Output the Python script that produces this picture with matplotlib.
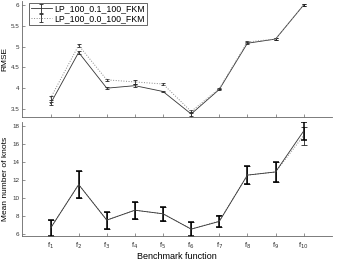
import numpy as np
import matplotlib
matplotlib.use("Agg")
import matplotlib.pyplot as plt
from matplotlib.ticker import FormatStrFormatter

plt.rcParams['font.family'] = ['Liberation Sans', 'DejaVu Sans']

# ── Data ─────────────────────────────────────────────────────────────────────
funcs = [r'f$_{%d}$' % i for i in range(1, 11)]
x = np.arange(1, 11)

rmse_01 = [3.63, 4.86, 4.00, 4.06, 3.92, 3.38, 3.97, 5.08, 5.18, 6.00]
rmse_01_err = [0.04, 0.03, 0.02, 0.03, 0.02, 0.04, 0.02, 0.03, 0.02, 0.03]
rmse_00 = [3.76, 5.03, 4.20, 4.15, 4.10, 3.44, 3.99, 5.11, 5.18, 6.00]
rmse_00_err = [0.04, 0.04, 0.03, 0.04, 0.03, 0.04, 0.02, 0.03, 0.02, 0.03]

knots_01 = [6.6, 11.45, 7.5, 8.6, 8.2, 6.5, 7.35, 12.5, 12.85, 17.4]
knots_01_err = [0.9, 1.5, 0.95, 0.93, 0.8, 0.75, 0.65, 1.0, 1.1, 0.95]
knots_00 = [6.6, 11.45, 7.5, 8.6, 8.2, 6.5, 7.4, 12.5, 12.85, 16.9]
knots_00_err = [0.9, 1.5, 0.95, 0.93, 0.8, 0.75, 0.7, 1.0, 1.1, 1.0]

labels = ['LP_100_0.1_100_FKM', 'LP_100_0.0_100_FKM']

# ── Figure ───────────────────────────────────────────────────────────────────
fig = plt.figure(figsize=(3.5, 2.63), dpi=100)
ax1 = fig.add_axes([0.064, 0.554, 0.884, 0.443])
ax2 = fig.add_axes([0.064, 0.1015, 0.884, 0.4346])

spine_c = '#666666'
for ax in (ax1, ax2):
    for s in ('top', 'right'):
        ax.spines[s].set_visible(False)
    for s in ('left', 'bottom'):
        ax.spines[s].set_color(spine_c)
        ax.spines[s].set_linewidth(0.6)
    ax.tick_params(direction='in', length=2, width=0.5, colors=spine_c,
                   labelsize=4.5, labelcolor='#333333', pad=2)
    ax.set_xlim(0, 11)
    ax.set_xticks(x)
    ax.yaxis.set_major_formatter(FormatStrFormatter('%g'))

# Panel 1: RMSE
ax1.errorbar(x, rmse_01, yerr=rmse_01_err, fmt='-', color='#333333', lw=0.6,
             ecolor='#222222', elinewidth=0.6, capsize=1.5, capthick=0.6,
             label=labels[0])
ax1.errorbar(x, rmse_00, yerr=rmse_00_err, fmt=':', color='#888888', lw=0.7,
             ecolor='#222222', elinewidth=0.6, capsize=1.5, capthick=0.6,
             label=labels[1])
ax1.set_ylim(3.3, 6.1)
ax1.set_yticks([3.5, 4, 4.5, 5, 5.5, 6])
ax1.set_xticklabels([])
ax1.set_ylabel('RMSE', fontsize=6)
ax1.yaxis.set_label_coords(-0.045, 0.5)
leg = ax1.legend(loc='upper left', bbox_to_anchor=(0.015, 1.0), fontsize=6.3,
                 frameon=True, fancybox=False, edgecolor='#222222',
                 handlelength=2.4, handletextpad=0.3, borderpad=0.2,
                 labelspacing=0.1, borderaxespad=0.2)
leg.get_frame().set_linewidth(0.6)

# Panel 2: number of knots
ax2.errorbar(x, knots_00, yerr=knots_00_err, fmt=':', color='#888888', lw=0.7,
             ecolor='#222222', elinewidth=0.6, capsize=2, capthick=0.6)
ax2.errorbar(x, knots_01, yerr=knots_01_err, fmt='-', color='#333333', lw=0.6,
             ecolor='black', elinewidth=1.1, capsize=2, capthick=1.1)
ax2.set_ylim(5.7, 18.4)
ax2.set_yticks([6, 8, 10, 12, 14, 16, 18])
ax2.set_xticklabels(funcs)
ax2.tick_params(axis='x', labelsize=5.5, pad=3)
ax2.set_ylabel('Mean number of knots', fontsize=6)
ax2.yaxis.set_label_coords(-0.043, 0.5)
ax2.set_xlabel('Benchmark function', fontsize=6.5, labelpad=1)

plt.savefig('out.png', dpi=100)
plt.close()
